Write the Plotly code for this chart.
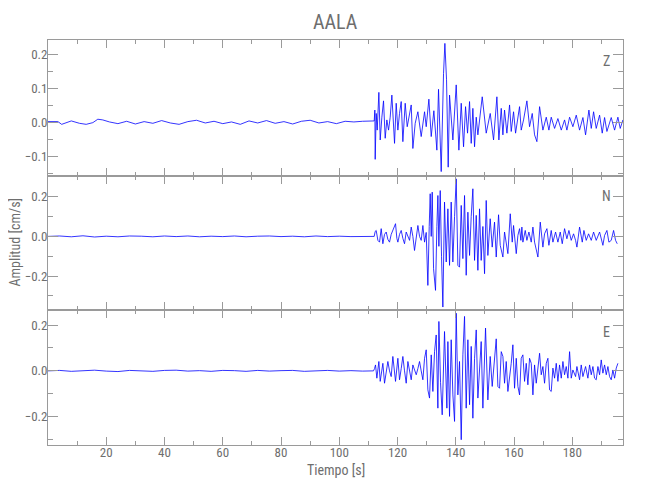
import plotly.graph_objects as go

title_text = "AALA"
x_title = "Tiempo [s]"
y_title = "Amplitud [cm/s]"
channel_names = ["Z", "N", "E"]

# ---- Z component ----
z_t = [0, 3.4, 4.7, 8.0, 10.8, 13.1, 15.4, 17.1, 18.8, 21.1, 24, 27, 30, 33, 36, 39, 42, 45, 48, 51,
       54, 57, 60, 63, 66, 69, 72, 75, 78, 81, 84, 87, 90, 93, 96, 99, 102, 105, 108, 111.99,
       112.21, 112.33, 112.67, 113.02, 113.59, 114.05, 114.62, 115.19, 115.76, 116.33, 116.91, 117.48,
       118.05, 118.51, 118.97, 119.54, 120.11, 120.68, 121.26, 121.83, 122.63, 123.32, 124.12, 124.69,
       125.26, 126.06, 126.98, 128.12, 129.27, 129.84, 130.76, 131.56, 132.47, 133.50, 134.07, 134.99,
       135.79, 136.25, 136.82, 137.39, 137.85, 139.0, 140.14, 141.06, 141.86, 142.66, 143.35, 144.03,
       144.72, 145.29, 145.86, 146.44, 147.01, 147.58, 149.07, 150.44, 151.82, 152.96, 154.11, 154.79,
       155.60, 156.17, 156.74, 157.54, 158.46, 159.03, 159.83, 160.52, 161.89, 162.46, 163.26, 164.41,
       165.32, 166.24, 167.04, 167.84, 168.76, 169.90, 171.05, 171.96, 172.76, 173.91, 175.05, 176.20,
       177.34, 178.14, 179.06, 180.20, 181.35, 182.49, 183.64, 184.55, 185.70, 186.50, 187.30, 188.21,
       189.36, 190.27, 191.08, 191.88, 193.36, 194.51, 195.65, 196.45, 197.37]
z_v = [0.002, 0.002, -0.006, 0.004, -0.003, -0.006, -0.001, 0.009, 0.007, 0.001, -0.004, 0.003, -0.005,
       0.002, -0.003, 0.005, -0.002, -0.006, 0.002, 0.006, -0.002, 0.003, -0.004, 0.001, -0.006, 0.004,
       -0.002, 0.005, -0.003, 0.002, -0.005, 0.003, 0.006, -0.002, 0.002, -0.004, 0.003, 0.001, 0.003,
       0.004,
       0.036, -0.109, 0.026, -0.023, 0.088, -0.052, 0.015, 0.063, -0.047, 0.007, -0.023, 0.015,
       0.080, -0.013, -0.062, 0.056, -0.023, 0.026, 0.061, -0.057, 0.056, -0.013, 0.026, 0.051,
       -0.077, -0.003, 0.031, -0.042, 0.031, -0.013, 0.068, -0.042, 0.034, -0.082, 0.097, -0.145,
       0.144, 0.232, 0.125, -0.132, 0.080, -0.052, 0.110, -0.082, 0.056, -0.072, 0.046, -0.032,
       0.061, -0.062, 0.041, -0.072, 0.015, -0.037, 0.075, -0.032, 0.026, -0.052, 0.075, -0.052,
       0.041, -0.037, 0.036, -0.032, 0.051, -0.027, 0.031, -0.032, 0.046, -0.023, 0.007, 0.063,
       -0.013, 0.026, -0.037, -0.057, 0.046, -0.023, 0.015, -0.023, 0.015, -0.018, 0.011, -0.023,
       0.007, -0.023, 0.015, -0.013, 0.021, -0.023, 0.014, -0.037, 0.036, -0.018, 0.031, -0.018,
       0.021, -0.032, 0.014, -0.027, 0.014, -0.023, 0.015, -0.018, 0.007]

# ---- N component ----
n_t = [0, 4, 8, 12, 16, 20, 24, 28, 32, 36, 40, 44, 48, 52, 56, 60, 64, 68, 72, 76, 80, 84, 88, 92,
       96, 100, 104, 108, 111.99,
       112.33, 112.67, 113.25, 113.82, 114.39, 114.96, 115.53, 116.11, 116.68, 117.25, 117.82, 118.39,
       119.31, 119.77, 120.11, 120.68, 121.26, 121.83, 122.40, 122.97, 123.55, 124.12, 124.69, 125.26,
       125.83, 126.41, 126.98, 127.55, 128.12, 128.70, 129.27, 129.84, 130.41, 130.87, 131.21, 131.56,
       131.90, 132.36, 133.04, 133.50, 133.85, 134.19, 134.65, 135.10, 135.56, 136.13, 136.71, 137.28,
       137.85, 138.42, 138.99, 139.57, 140.14, 140.71, 141.28, 141.86, 142.43, 143.00, 143.57, 144.15,
       144.72, 145.29, 145.86, 146.44, 147.01, 147.58, 148.15, 148.72, 149.30, 149.87, 150.44, 151.01,
       151.81, 152.50, 153.30, 153.88, 154.68, 155.25, 156.17, 156.74, 157.31, 157.88, 158.69, 159.37,
       159.83, 160.75, 161.32, 161.89, 162.35, 162.69, 163.03, 163.84, 164.41, 165.10, 165.90, 166.47,
       167.04, 167.61, 168.19, 168.99, 169.90, 170.47, 171.28, 171.96, 172.76, 173.34, 174.25, 175.05,
       175.85, 176.54, 177.34, 178.14, 178.83, 179.63, 180.43, 181.12, 181.58, 182.49, 183.41, 183.98,
       184.78, 185.58, 186.50, 187.30, 188.21, 189.36, 190.50, 191.08, 191.88, 192.56, 193.36, 194.17,
       194.85, 195.42]
n_v = [0.0, 0.002, -0.002, 0.003, -0.003, 0.001, -0.002, 0.002, 0.001, -0.002, 0.002, -0.001, 0.002,
       -0.002, 0.001, -0.001, 0.002, -0.002, 0.001, 0.002, -0.001, 0.001, -0.002, 0.002, -0.001, 0.001,
       -0.001, 0.001, 0.0,
       0.025, 0.030, -0.020, -0.029, 0.039, -0.037, 0.010, 0.022, -0.015, -0.029, 0.010, 0.030,
       0.064, -0.010, -0.029, 0.010, 0.030, -0.010, -0.037, 0.022, -0.005, -0.020, 0.047, 0.0,
       -0.071, 0.0, 0.055, 0.0, -0.020, 0.055, -0.029, 0.020, -0.247, 0.050, 0.215, 0.0,
       0.223, -0.163, -0.272, 0.050, 0.206, -0.050, 0.231, -0.100, -0.356, 0.173, -0.129, 0.139,
       -0.146, 0.173, -0.129, 0.100, 0.290, -0.146, -0.155, 0.156, -0.112, 0.206, -0.196, 0.122,
       -0.096, 0.100, 0.240, -0.121, 0.106, -0.171, 0.139, -0.121, 0.050, -0.188, 0.181, -0.096,
       0.089, -0.054, 0.072, -0.104, 0.109, -0.045, -0.104, 0.022, -0.045, -0.087, 0.114, -0.029,
       0.055, -0.087, 0.005, 0.039, -0.020, 0.047, -0.029, 0.030, -0.020, 0.022, -0.029, 0.047,
       -0.029, -0.071, -0.104, 0.072, -0.054, 0.013, 0.039, -0.045, 0.030, -0.029, 0.022, -0.029,
       0.022, -0.037, 0.039, -0.012, 0.030, -0.020, 0.013, -0.020, -0.054, 0.047, -0.029, 0.030,
       -0.020, 0.013, -0.020, 0.022, -0.020, 0.022, -0.045, 0.005, 0.030, -0.029, -0.020, 0.030,
       -0.020, -0.037]

# ---- E component ----
e_t = [0, 4, 8, 12, 16, 20, 24, 28, 32, 36, 40, 44, 48, 52, 56, 60, 64, 68, 72, 76, 80, 84, 88, 92,
       96, 100, 104, 108, 111.76,
       112.10, 112.44, 112.90, 113.59, 114.05, 114.50, 114.96, 115.53, 116.11, 116.68, 117.25, 117.82,
       118.39, 118.85, 119.31, 120.11, 120.68, 121.26, 121.83, 122.40, 122.97, 123.55, 124.12, 124.69,
       125.26, 125.83, 126.41, 126.98, 127.55, 128.12, 128.70, 129.27, 129.84, 130.41, 130.98, 131.56,
       132.13, 132.70, 133.27, 133.85, 134.19, 134.76, 135.33, 136.13, 136.94, 137.28, 137.85, 138.42,
       139.00, 139.57, 140.14, 140.71, 141.28, 141.86, 142.43, 143.00, 143.57, 144.15, 144.72, 145.29,
       145.86, 146.44, 147.01, 147.58, 148.15, 148.72, 149.30, 150.21, 151.01, 151.81, 152.50, 153.30,
       153.88, 154.45, 155.02, 155.60, 156.17, 156.74, 157.31, 157.88, 158.46, 159.03, 159.60, 160.17,
       160.75, 161.32, 161.89, 162.46, 163.03, 163.61, 164.18, 164.75, 165.32, 165.90, 166.47, 167.04,
       167.61, 168.19, 168.76, 169.33, 169.90, 170.47, 171.05, 171.62, 172.19, 172.76, 173.34, 173.91,
       174.48, 175.05, 175.62, 176.20, 176.77, 177.34, 177.91, 178.49, 179.06, 179.63, 180.20, 181.12,
       181.58, 182.49, 183.06, 183.64, 184.55, 185.35, 185.93, 186.50, 187.07, 187.64, 188.21, 188.79,
       189.36, 189.93, 190.50, 191.08, 191.65, 192.22, 192.79, 193.36, 193.94, 194.51, 195.08, 195.65]
e_v = [0.0, 0.002, -0.002, 0.001, 0.003, -0.001, -0.003, 0.002, 0.001, -0.002, 0.002, 0.003, -0.001,
       0.001, -0.002, 0.002, 0.001, -0.002, 0.002, -0.001, 0.001, 0.002, -0.002, 0.001, 0.002, -0.001,
       0.001, -0.001, 0.0,
       0.010, 0.026, -0.032, 0.041, -0.046, 0.0, 0.033, -0.054, 0.0, 0.041, 0.0, -0.025,
       0.063, 0.0, -0.046, 0.055, -0.039, 0.010, 0.063, 0.0, -0.054, 0.041, 0.0, -0.039,
       0.026, 0.0, -0.017, 0.010, 0.041, 0.0, -0.039, 0.055, 0.092, -0.083, -0.119, 0.070,
       -0.090, 0.084, 0.157, -0.163, 0.216, -0.050, -0.192, 0.172, -0.163, 0.128, -0.199, 0.136,
       -0.105, -0.221, 0.252, -0.105, 0.041, -0.301, 0.070, 0.238, -0.163, 0.136, -0.148, 0.107,
       -0.207, 0.055, 0.179, -0.119, 0.026, 0.128, -0.163, 0.187, -0.127, 0.063, -0.068, 0.055,
       0.140, -0.068, -0.076, 0.084, 0.063, -0.054, 0.041, -0.090, -0.039, 0.033, 0.114, -0.076,
       0.055, -0.068, -0.105, 0.055, 0.070, -0.046, 0.033, -0.061, 0.055, 0.033, -0.105, 0.026,
       -0.054, 0.019, 0.077, -0.017, 0.019, -0.054, 0.033, 0.055, -0.083, -0.090, 0.012, -0.032,
       0.033, -0.046, 0.026, -0.032, 0.041, -0.017, 0.019, -0.032, 0.084, -0.032, 0.004, -0.025,
       0.019, -0.039, 0.026, -0.025, 0.019, -0.032, 0.026, -0.017, 0.019, -0.032, -0.039, 0.019,
       -0.017, 0.048, -0.010, 0.026, -0.017, 0.019, -0.025, -0.039, 0.004, -0.032, 0.012, 0.033]

x_range = [0, 197.4]
x_major = [20, 40, 60, 80, 100, 120, 140, 160, 180]
x_minor = [10, 30, 50, 70, 90, 110, 130, 150, 170, 190]
y_ranges = [[-0.157, 0.242], [-0.371, 0.306], [-0.324, 0.266]]
y_major = [[-0.1, 0.0, 0.1, 0.2], [-0.2, 0.0, 0.2], [-0.2, 0.0, 0.2]]
y_minor = [[-0.15, -0.05, 0.05, 0.15], [-0.3, -0.1, 0.1, 0.3], [-0.3, -0.1, 0.1]]

series_t = [z_t, n_t, e_t]
series_v = [z_v, n_v, e_v]

axis_c = "#9a9a9a"
text_c = "#6e6e6e"
font_f = "Liberation Sans Narrow, Roboto Condensed, DejaVu Sans Condensed, Liberation Sans, sans-serif"

domains = [[0.665, 1.0], [0.3333, 0.665], [0.0, 0.3333]]
label_y = [0.948, 0.6136, 0.279]

fig = go.Figure()
for i in range(3):
    sfx = "" if i == 0 else str(i + 1)
    fig.add_trace(go.Scatter(x=series_t[i], y=series_v[i], mode="lines",
                             line=dict(color="#0000ff", width=0.8),
                             xaxis="x" + sfx, yaxis="y" + sfx, showlegend=False,
                             hoverinfo="skip"))
    xa = dict(range=x_range, domain=[0, 1], anchor="y" + sfx, showline=True, linecolor=axis_c,
              linewidth=1, mirror="allticks", ticks="inside", ticklen=8, tickcolor=axis_c,
              tickvals=x_major, ticktext=[str(v) for v in x_major], showticklabels=(i == 2),
              showgrid=False, zeroline=False, ticklabelstandoff=-5,
              tickfont=dict(family=font_f, size=13, color=text_c),
              minor=dict(tickvals=x_minor, ticks="inside", ticklen=4, tickcolor=axis_c, showgrid=False))
    if i > 0:
        xa["matches"] = "x"
    ya = dict(range=y_ranges[i], domain=domains[i], anchor="x" + sfx, showline=True, linecolor=axis_c,
              linewidth=1, mirror="allticks", ticks="inside", ticklen=10, tickcolor=axis_c,
              tickvals=y_major[i], tickformat=".1f", showgrid=False, zeroline=False,
              ticklabelstandoff=-3,
              tickfont=dict(family=font_f, size=13, color=text_c),
              minor=dict(tickvals=y_minor[i], ticks="inside", ticklen=5, tickcolor=axis_c, showgrid=False))
    fig.update_layout(**{"xaxis" + sfx: xa, "yaxis" + sfx: ya})
    fig.add_annotation(x=0.972, y=label_y[i], xref="paper", yref="paper", text=channel_names[i],
                       xanchor="center", yanchor="middle", showarrow=False,
                       font=dict(family=font_f, size=14, color=text_c))

fig.add_annotation(x=0.5, y=1.044, xref="paper", yref="paper", text=title_text, showarrow=False,
                   xanchor="center", yanchor="middle",
                   font=dict(family=font_f, size=20, color=text_c))
fig.add_annotation(x=0.5, y=-0.062, xref="paper", yref="paper", text=x_title, showarrow=False,
                   xanchor="center", yanchor="middle",
                   font=dict(family=font_f, size=14, color=text_c))
fig.add_annotation(x=-0.059, y=0.5, xref="paper", yref="paper", text=y_title, showarrow=False,
                   xanchor="center", yanchor="middle", textangle=-90,
                   font=dict(family=font_f, size=14, color=text_c))

# the page adds an 8 px body margin, so the figure is made 8 px smaller and shifted accordingly
fig.update_layout(width=642, height=492, margin=dict(l=40, r=27, t=32, b=55),
                  paper_bgcolor="white", plot_bgcolor="white")
fig.write_html("out.html")
